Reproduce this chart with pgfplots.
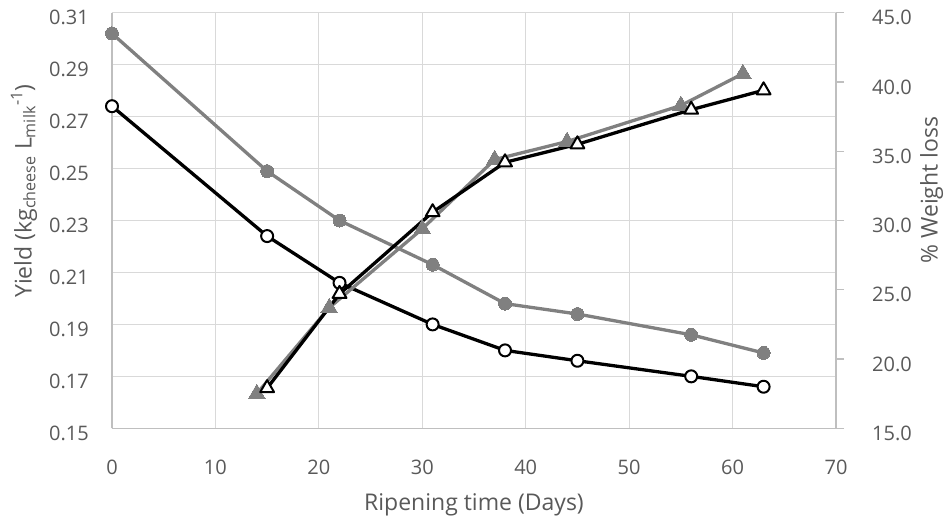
\documentclass[border=0pt]{standalone}
\usepackage{pgfplots}
\pgfplotsset{compat=1.18}
\usepackage{fontspec}
\setmainfont{Open Sans}
\definecolor{txt}{HTML}{595959}
\definecolor{gridc}{HTML}{D9D9D9}
\definecolor{axc}{HTML}{BFBFBF}
\definecolor{ser}{HTML}{808080}

\pgfplotsset{
  base/.style={
    scale only axis, width=724pt, height=415.6pt,
    at={(0,0)}, anchor=south west,
    xmin=0, xmax=70, clip=false,
    tick label style={font=\fontsize{20}{24}\selectfont, text=txt},
    label style={font=\fontsize{23}{27}\selectfont, text=txt},
    /pgf/number format/assume math mode=true,
  },
}

\begin{document}
\begin{tikzpicture}
\useasboundingbox (-112pt,-94.7pt) rectangle (833pt,428.3pt);

% left axis: yield
\begin{axis}[base,
    ymin=0.15, ymax=0.31,
    xtick={0,10,20,30,40,50,60,70},
    ytick={0.15,0.17,0.19,0.21,0.23,0.25,0.27,0.29,0.31},
    yticklabel style={/pgf/number format/fixed, /pgf/number format/fixed zerofill,
        /pgf/number format/precision=2},
    xmajorgrids, ymajorgrids,
    grid style={gridc, line width=1.2pt},
    axis x line*=bottom, axis y line*=left,
    axis line style={axc, line width=1.3pt},
    major tick length=0pt,
    xticklabel style={anchor=center, yshift=-39pt},
    yticklabel style={anchor=east, inner sep=0pt, xshift=-23pt, yshift=-5pt},
    xlabel={Ripening time (Days)},
    xlabel style={at={(axis description cs:0.5,0)}, anchor=center, yshift=-76.7pt},
    ylabel={Yield (kg\textsubscript{cheese} L\textsubscript{milk}\textsuperscript{-1})},
    ylabel style={at={(axis description cs:-0.1215,0.571)}, anchor=center},
]
\addplot[ser, line width=3.3pt, line join=round, mark=*, mark size=6.5pt,
    mark options={fill=ser, draw=ser, line width=0pt}]
coordinates {(0,0.302) (15,0.249) (22,0.230) (31,0.213) (38,0.198) (45,0.194) (56,0.186) (63,0.179)};
\addplot[black, line width=3.3pt, line join=round, mark=*, mark size=6pt,
    mark options={fill=white, draw=black, line width=2pt}]
coordinates {(0,0.274) (15,0.224) (22,0.206) (31,0.190) (38,0.180) (45,0.176) (56,0.170) (63,0.166)};
\end{axis}

% right axis: weight loss
\begin{axis}[base,
    ymin=15, ymax=45,
    ytick={15,20,25,30,35,40,45},
    yticklabel style={/pgf/number format/fixed, /pgf/number format/fixed zerofill,
        /pgf/number format/precision=1},
    axis x line=none, xtick=\empty,
    axis y line*=right,
    axis line style={axc, line width=1.3pt},
    ytick style={axc, line width=1.2pt},
    tick align=outside, major tick length=8pt,
    yticklabel style={anchor=west, inner sep=0pt, xshift=28pt, yshift=-5pt},
    ylabel={\% Weight loss},
    ylabel style={at={(axis description cs:1.1322,0.573)}, anchor=center},
]
\addplot[ser, line width=3.3pt, line join=round, mark=triangle*, mark size=9.5pt,
    mark options={fill=ser, draw=ser, line width=0pt}]
coordinates {(14,17.5) (21,23.7) (30,29.4) (37,34.4) (44,35.7) (55,38.3) (61,40.6)};
\addplot[black, line width=3.3pt, line join=round, mark=triangle*, mark size=8pt,
    mark options={fill=white, draw=black, line width=2pt}]
coordinates {(15,17.9) (22,24.7) (31,30.6) (38,34.2) (45,35.5) (56,38.0) (63,39.4)};
\end{axis}
\end{tikzpicture}
\end{document}
